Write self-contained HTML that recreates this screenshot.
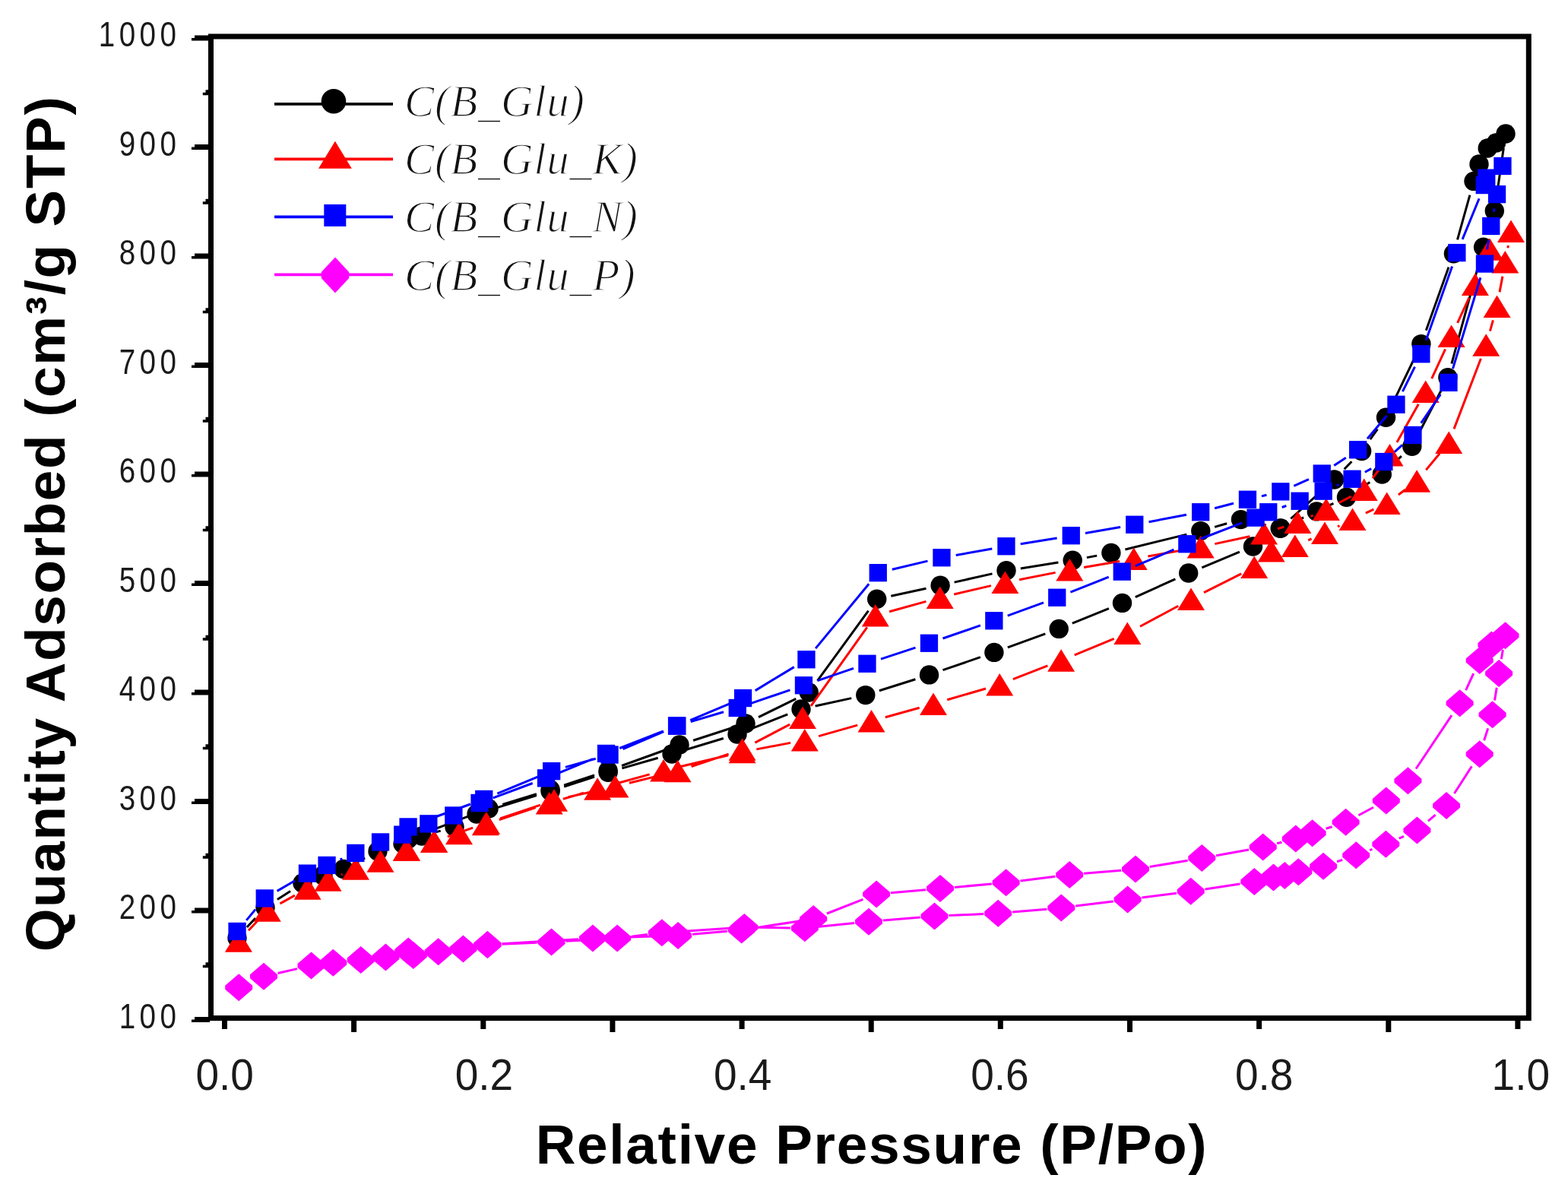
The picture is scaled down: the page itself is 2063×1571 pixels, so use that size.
<!DOCTYPE html>
<html><head><meta charset="utf-8"><title>Isotherm</title><style>
html,body{margin:0;padding:0;background:#fff;}
body{width:2063px;height:1571px;overflow:hidden;}
svg{display:block;}
.yl{font-family:"Liberation Sans",Arial,sans-serif;font-size:46px;fill:#1a1a1a;letter-spacing:6.5px;}
.xl{font-family:"Liberation Sans",Arial,sans-serif;font-size:57px;fill:#1a1a1a;}
.at{font-family:"Liberation Sans",Arial,sans-serif;font-size:73px;font-weight:bold;fill:#000;}
#xt{letter-spacing:1.7px;}
#yt{letter-spacing:1.6px;}
.lg{font-family:"Liberation Serif","Times New Roman",serif;font-style:italic;font-size:59px;fill:#111;letter-spacing:0.6px;stroke:#fff;stroke-width:1.4px;paint-order:normal;}
</style></head><body>
<svg width="2063" height="1571" viewBox="0 0 2063 1571">
<rect width="2063" height="1571" fill="#fff"/>
<path d="M324.9 1220.1L336.1 1207.9M364.9 1183.6L382.1 1172.4M468.8 1134.7L480.2 1128.8M573.3 1094.9L579.7 1093.1M645.2 1065.4L705.9 1046.6M742.2 1035.1L782.0 1022.1M818.4 1010.9L865.7 997.3M902.2 986.5L951.8 971.5M987.7 959.1L1036.3 939.9M1072.6 929.0L1120.2 918.6M1156.9 908.8L1204.4 893.7M1240.5 881.7L1289.9 864.6M1325.8 851.9L1375.3 833.9M1410.8 820.2L1458.9 800.6M1493.8 785.6L1546.4 761.8M1581.3 746.8L1630.9 726.2M1664.4 708.6L1669.1 705.4M1702.2 687.0L1715.1 680.9M1749.4 664.7L1754.4 662.4M1787.5 643.9L1802.3 634.4M1832.2 611.1L1843.9 600.2M1866.6 570.3L1896.1 513.7M1909.9 478.5L1946.6 343.6M1957.2 307.1L1960.7 295.8M1969.0 258.8L1978.3 194.8M1933.9 256.7L1917.5 315.4M1906.0 351.6L1876.3 434.7M1861.7 469.7L1831.7 532.1M1812.4 564.6L1802.7 578.1M1778.4 607.2L1768.7 617.3M1741.4 643.7L1698.3 682.5M1665.7 691.0L1651.0 687.8M1614.2 688.8L1598.1 693.4M1561.3 703.1L1480.4 723.0M1443.2 731.1L1429.9 733.6M1392.4 740.1L1342.8 747.9M1305.5 754.9L1255.6 766.1M1218.5 774.2L1172.3 784.2M1142.5 803.6L1075.5 895.6M1047.3 919.4L998.0 943.6M962.9 957.8L912.1 974.2M876.1 986.5L818.0 1007.5M782.1 1019.9L742.1 1033.1M705.9 1044.6L661.2 1058.4M625.2 1070.7L554.8 1097.3" stroke="#000000" stroke-width="3.0" fill="none" stroke-linecap="butt"/>
<circle cx="312.0" cy="1234.0" r="12.7" fill="#000000"/>
<circle cx="349.0" cy="1194.0" r="12.7" fill="#000000"/>
<circle cx="398.0" cy="1162.0" r="12.7" fill="#000000"/>
<circle cx="425.0" cy="1152.0" r="12.7" fill="#000000"/>
<circle cx="452.0" cy="1143.5" r="12.7" fill="#000000"/>
<circle cx="497.0" cy="1120.0" r="12.7" fill="#000000"/>
<circle cx="530.0" cy="1110.0" r="12.7" fill="#000000"/>
<circle cx="555.0" cy="1100.0" r="12.7" fill="#000000"/>
<circle cx="598.0" cy="1088.0" r="12.7" fill="#000000"/>
<circle cx="627.0" cy="1071.0" r="12.7" fill="#000000"/>
<circle cx="724.1" cy="1041.0" r="12.7" fill="#000000"/>
<circle cx="800.1" cy="1016.2" r="12.7" fill="#000000"/>
<circle cx="884.0" cy="992.0" r="12.7" fill="#000000"/>
<circle cx="970.0" cy="966.0" r="12.7" fill="#000000"/>
<circle cx="1054.0" cy="933.0" r="12.7" fill="#000000"/>
<circle cx="1138.8" cy="914.6" r="12.7" fill="#000000"/>
<circle cx="1222.5" cy="887.9" r="12.7" fill="#000000"/>
<circle cx="1307.9" cy="858.4" r="12.7" fill="#000000"/>
<circle cx="1393.2" cy="827.4" r="12.7" fill="#000000"/>
<circle cx="1476.5" cy="793.4" r="12.7" fill="#000000"/>
<circle cx="1563.7" cy="754.0" r="12.7" fill="#000000"/>
<circle cx="1648.5" cy="719.0" r="12.7" fill="#000000"/>
<circle cx="1685.0" cy="695.0" r="12.7" fill="#000000"/>
<circle cx="1732.3" cy="672.9" r="12.7" fill="#000000"/>
<circle cx="1771.5" cy="654.2" r="12.7" fill="#000000"/>
<circle cx="1818.3" cy="624.1" r="12.7" fill="#000000"/>
<circle cx="1857.8" cy="587.2" r="12.7" fill="#000000"/>
<circle cx="1904.9" cy="496.8" r="12.7" fill="#000000"/>
<circle cx="1951.6" cy="325.3" r="12.7" fill="#000000"/>
<circle cx="1966.3" cy="277.6" r="12.7" fill="#000000"/>
<circle cx="1981.0" cy="176.0" r="12.7" fill="#000000"/>
<circle cx="1968.4" cy="188.0" r="12.7" fill="#000000"/>
<circle cx="1957.2" cy="195.0" r="12.7" fill="#000000"/>
<circle cx="1946.0" cy="216.0" r="12.7" fill="#000000"/>
<circle cx="1939.0" cy="238.4" r="12.7" fill="#000000"/>
<circle cx="1912.4" cy="333.7" r="12.7" fill="#000000"/>
<circle cx="1869.9" cy="452.6" r="12.7" fill="#000000"/>
<circle cx="1823.5" cy="549.2" r="12.7" fill="#000000"/>
<circle cx="1791.6" cy="593.5" r="12.7" fill="#000000"/>
<circle cx="1755.5" cy="631.0" r="12.7" fill="#000000"/>
<circle cx="1684.2" cy="695.2" r="12.7" fill="#000000"/>
<circle cx="1632.5" cy="683.6" r="12.7" fill="#000000"/>
<circle cx="1579.8" cy="698.6" r="12.7" fill="#000000"/>
<circle cx="1461.9" cy="727.5" r="12.7" fill="#000000"/>
<circle cx="1411.2" cy="737.2" r="12.7" fill="#000000"/>
<circle cx="1324.0" cy="750.8" r="12.7" fill="#000000"/>
<circle cx="1237.1" cy="770.2" r="12.7" fill="#000000"/>
<circle cx="1153.7" cy="788.2" r="12.7" fill="#000000"/>
<circle cx="1064.3" cy="911.0" r="12.7" fill="#000000"/>
<circle cx="981.0" cy="952.0" r="12.7" fill="#000000"/>
<circle cx="894.0" cy="980.0" r="12.7" fill="#000000"/>
<circle cx="800.1" cy="1014.0" r="12.7" fill="#000000"/>
<circle cx="724.1" cy="1039.0" r="12.7" fill="#000000"/>
<circle cx="643.0" cy="1064.0" r="12.7" fill="#000000"/>
<circle cx="537.0" cy="1104.0" r="12.7" fill="#000000"/>
<path d="M327.0 1224.2L338.7 1211.8M368.5 1188.9L387.9 1178.1M449.1 1150.8L450.4 1150.2M656.8 1078.6L704.7 1062.7M740.9 1051.3L767.9 1043.3M804.4 1032.8L854.7 1018.9M891.5 1009.5L958.1 993.8M995.3 985.9L1040.1 977.4M1077.1 968.6L1128.2 954.1M1164.8 943.8L1209.7 931.3M1246.2 920.8L1297.0 906.0M1332.9 893.7L1378.4 875.9M1413.7 861.8L1465.7 840.4M1500.0 824.2L1550.3 797.3M1584.0 779.7L1633.2 754.9M1721.2 710.8L1725.6 708.9M1760.0 692.9L1762.5 691.6M1796.8 675.2L1807.4 670.2M1839.9 651.0L1848.9 644.3M1876.2 618.4L1894.1 596.7M1913.0 564.4L1948.4 471.7M1960.4 435.7L1964.4 421.4M1973.0 384.4L1976.9 363.6M1983.8 326.2L1984.5 323.0M1952.8 345.6L1948.1 356.8M1932.9 391.7L1917.6 424.9M1901.6 459.4L1883.7 498.1M1866.3 531.8L1837.9 582.1M1817.2 613.9L1806.0 629.1M1777.8 653.1L1761.7 661.5M1727.5 678.0L1724.6 679.3M1689.3 693.1L1681.0 695.8M1644.4 705.8L1598.3 715.6M1561.0 722.9L1510.4 732.0M1473.0 738.5L1426.0 746.6M1388.6 753.4L1341.1 762.7M1303.9 770.6L1255.2 782.0M1218.4 791.4L1170.1 804.8M1140.8 825.4L1067.0 928.8M1039.2 953.1L993.4 977.2M958.6 992.1L909.6 1008.5M873.1 1019.1L827.9 1030.3M790.9 1039.0L747.5 1048.8M711.0 1059.1L658.0 1076.9M622.1 1089.2L588.9 1100.8" stroke="#ff0000" stroke-width="3.0" fill="none" stroke-linecap="butt"/>
<path d="M313.9 1223.2L331.9 1252.8L295.9 1252.8Z" fill="#ff0000"/>
<path d="M351.8 1183.2L369.8 1212.8L333.8 1212.8Z" fill="#ff0000"/>
<path d="M404.6 1154.2L422.6 1183.8L386.6 1183.8Z" fill="#ff0000"/>
<path d="M431.5 1143.2L449.5 1172.8L413.5 1172.8Z" fill="#ff0000"/>
<path d="M468.0 1128.2L486.0 1157.8L450.0 1157.8Z" fill="#ff0000"/>
<path d="M500.5 1118.2L518.5 1147.8L482.5 1147.8Z" fill="#ff0000"/>
<path d="M534.8 1103.2L552.8 1132.8L516.8 1132.8Z" fill="#ff0000"/>
<path d="M571.2 1092.2L589.2 1121.8L553.2 1121.8Z" fill="#ff0000"/>
<path d="M604.0 1081.8L622.0 1111.2L586.0 1111.2Z" fill="#ff0000"/>
<path d="M638.8 1069.8L656.8 1099.3L620.8 1099.3Z" fill="#ff0000"/>
<path d="M722.7 1042.0L740.7 1071.5L704.7 1071.5Z" fill="#ff0000"/>
<path d="M786.1 1023.2L804.1 1052.7L768.1 1052.7Z" fill="#ff0000"/>
<path d="M873.0 999.0L891.0 1028.5L855.0 1028.5Z" fill="#ff0000"/>
<path d="M976.6 974.8L994.6 1004.2L958.6 1004.2Z" fill="#ff0000"/>
<path d="M1058.8 959.0L1076.8 988.5L1040.8 988.5Z" fill="#ff0000"/>
<path d="M1146.5 934.1L1164.5 963.6L1128.5 963.6Z" fill="#ff0000"/>
<path d="M1228.0 911.5L1246.0 941.0L1210.0 941.0Z" fill="#ff0000"/>
<path d="M1315.2 885.9L1333.2 915.4L1297.2 915.4Z" fill="#ff0000"/>
<path d="M1396.1 854.2L1414.1 883.8L1378.1 883.8Z" fill="#ff0000"/>
<path d="M1483.3 818.5L1501.3 848.0L1465.3 848.0Z" fill="#ff0000"/>
<path d="M1567.0 773.5L1585.0 803.0L1549.0 803.0Z" fill="#ff0000"/>
<path d="M1650.2 731.5L1668.2 761.0L1632.2 761.0Z" fill="#ff0000"/>
<path d="M1672.6 709.9L1690.6 739.4L1654.6 739.4Z" fill="#ff0000"/>
<path d="M1703.8 703.5L1721.8 733.0L1685.8 733.0Z" fill="#ff0000"/>
<path d="M1743.0 686.6L1761.0 716.1L1725.0 716.1Z" fill="#ff0000"/>
<path d="M1779.5 668.4L1797.5 697.9L1761.5 697.9Z" fill="#ff0000"/>
<path d="M1824.7 647.5L1842.7 677.0L1806.7 677.0Z" fill="#ff0000"/>
<path d="M1864.1 618.2L1882.1 647.8L1846.1 647.8Z" fill="#ff0000"/>
<path d="M1906.2 567.4L1924.2 596.9L1888.2 596.9Z" fill="#ff0000"/>
<path d="M1955.2 439.2L1973.2 468.8L1937.2 468.8Z" fill="#ff0000"/>
<path d="M1969.6 388.4L1987.6 417.9L1951.6 417.9Z" fill="#ff0000"/>
<path d="M1980.3 330.1L1998.3 359.6L1962.3 359.6Z" fill="#ff0000"/>
<path d="M1988.0 289.6L2006.0 319.1L1970.0 319.1Z" fill="#ff0000"/>
<path d="M1960.0 313.2L1978.0 342.8L1942.0 342.8Z" fill="#ff0000"/>
<path d="M1940.9 359.6L1958.9 389.1L1922.9 389.1Z" fill="#ff0000"/>
<path d="M1909.6 427.4L1927.6 456.9L1891.6 456.9Z" fill="#ff0000"/>
<path d="M1875.7 500.5L1893.7 530.0L1857.7 530.0Z" fill="#ff0000"/>
<path d="M1828.5 583.9L1846.5 613.4L1810.5 613.4Z" fill="#ff0000"/>
<path d="M1794.7 629.6L1812.7 659.1L1776.7 659.1Z" fill="#ff0000"/>
<path d="M1744.8 655.5L1762.8 685.0L1726.8 685.0Z" fill="#ff0000"/>
<path d="M1707.3 672.4L1725.3 701.9L1689.3 701.9Z" fill="#ff0000"/>
<path d="M1663.0 687.0L1681.0 716.5L1645.0 716.5Z" fill="#ff0000"/>
<path d="M1579.7 704.9L1597.7 734.4L1561.7 734.4Z" fill="#ff0000"/>
<path d="M1491.7 720.5L1509.7 750.0L1473.7 750.0Z" fill="#ff0000"/>
<path d="M1407.3 735.0L1425.3 764.5L1389.3 764.5Z" fill="#ff0000"/>
<path d="M1322.4 751.5L1340.4 781.0L1304.4 781.0Z" fill="#ff0000"/>
<path d="M1236.7 771.5L1254.7 801.0L1218.7 801.0Z" fill="#ff0000"/>
<path d="M1151.8 795.1L1169.8 824.6L1133.8 824.6Z" fill="#ff0000"/>
<path d="M1056.0 929.5L1074.0 959.0L1038.0 959.0Z" fill="#ff0000"/>
<path d="M976.6 971.2L994.6 1000.8L958.6 1000.8Z" fill="#ff0000"/>
<path d="M891.6 999.9L909.6 1029.3L873.6 1029.3Z" fill="#ff0000"/>
<path d="M809.4 1020.0L827.4 1049.5L791.4 1049.5Z" fill="#ff0000"/>
<path d="M729.0 1038.2L747.0 1067.8L711.0 1067.8Z" fill="#ff0000"/>
<path d="M640.0 1068.2L658.0 1097.8L622.0 1097.8Z" fill="#ff0000"/>
<path d="M571.0 1092.2L589.0 1121.8L553.0 1121.8Z" fill="#ff0000"/>
<path d="M535.0 1103.2L553.0 1132.8L517.0 1132.8Z" fill="#ff0000"/>
<path d="M324.2 1210.9L336.0 1196.6M364.6 1172.4L388.0 1158.8M447.5 1131.0L450.4 1129.9M648.8 1049.9L700.7 1030.5M736.1 1016.7L779.9 998.6M815.2 984.5L872.8 961.9M908.7 949.6L952.0 936.8M988.2 925.3L1039.5 907.9M1075.5 895.6L1123.0 879.4M1159.0 867.2L1204.5 852.2M1240.5 840.0L1289.9 822.9M1325.7 810.2L1373.0 792.8M1408.4 779.2L1458.7 759.2M1493.8 744.7L1544.4 723.2M1579.6 709.0L1634.4 687.9M1686.7 667.5L1692.3 665.5M1758.7 638.8L1761.6 637.6M1795.8 621.2L1804.2 616.6M1834.9 594.6L1845.0 585.3M1869.7 556.7L1895.3 519.0M1911.5 485.1L1947.9 365.2M1956.6 328.3L1958.6 316.1M1965.3 278.7L1966.1 274.4M1946.1 261.2L1924.1 314.9M1910.6 350.4L1876.2 447.8M1861.5 482.7L1845.4 515.2M1824.7 546.7L1799.0 577.3M1770.8 602.2L1755.2 612.6M1721.9 630.6L1702.3 639.3M1666.4 651.3L1659.9 652.9M1623.0 662.2L1598.1 668.8M1561.0 677.2L1511.5 686.7M1474.1 693.5L1428.0 701.5M1390.6 707.9L1342.7 715.7M1305.3 722.1L1257.7 730.4M1220.5 738.1L1173.8 749.2M1143.2 768.2L1073.1 853.1M1044.8 877.6L993.7 908.6M960.0 925.9L908.2 947.6M873.2 962.5L819.5 985.5M783.7 998.2L743.9 1009.4M708.1 1021.9L654.3 1044.2M619.0 1058.0L554.8 1081.5" stroke="#0000ff" stroke-width="3.0" fill="none" stroke-linecap="butt"/>
<rect x="300.4" y="1213.8" width="23.3" height="23.3" fill="#0000ff"/>
<rect x="336.6" y="1170.3" width="23.3" height="23.3" fill="#0000ff"/>
<rect x="392.8" y="1137.5" width="23.3" height="23.3" fill="#0000ff"/>
<rect x="418.4" y="1126.8" width="23.3" height="23.3" fill="#0000ff"/>
<rect x="456.2" y="1110.8" width="23.3" height="23.3" fill="#0000ff"/>
<rect x="488.9" y="1096.3" width="23.3" height="23.3" fill="#0000ff"/>
<rect x="518.1" y="1086.5" width="23.3" height="23.3" fill="#0000ff"/>
<rect x="552.2" y="1072.2" width="23.3" height="23.3" fill="#0000ff"/>
<rect x="585.2" y="1061.3" width="23.3" height="23.3" fill="#0000ff"/>
<rect x="619.4" y="1044.8" width="23.3" height="23.3" fill="#0000ff"/>
<rect x="706.9" y="1012.2" width="23.3" height="23.3" fill="#0000ff"/>
<rect x="785.9" y="979.8" width="23.3" height="23.3" fill="#0000ff"/>
<rect x="878.9" y="943.4" width="23.3" height="23.3" fill="#0000ff"/>
<rect x="958.6" y="919.8" width="23.3" height="23.3" fill="#0000ff"/>
<rect x="1045.8" y="890.1" width="23.3" height="23.3" fill="#0000ff"/>
<rect x="1129.3" y="861.6" width="23.3" height="23.3" fill="#0000ff"/>
<rect x="1210.8" y="834.6" width="23.3" height="23.3" fill="#0000ff"/>
<rect x="1296.2" y="805.1" width="23.3" height="23.3" fill="#0000ff"/>
<rect x="1379.1" y="774.6" width="23.3" height="23.3" fill="#0000ff"/>
<rect x="1464.6" y="740.5" width="23.3" height="23.3" fill="#0000ff"/>
<rect x="1550.2" y="704.1" width="23.3" height="23.3" fill="#0000ff"/>
<rect x="1640.4" y="669.5" width="23.3" height="23.3" fill="#0000ff"/>
<rect x="1657.1" y="662.1" width="23.3" height="23.3" fill="#0000ff"/>
<rect x="1698.5" y="647.6" width="23.3" height="23.3" fill="#0000ff"/>
<rect x="1729.5" y="634.5" width="23.3" height="23.3" fill="#0000ff"/>
<rect x="1767.4" y="618.6" width="23.3" height="23.3" fill="#0000ff"/>
<rect x="1809.2" y="595.9" width="23.3" height="23.3" fill="#0000ff"/>
<rect x="1847.3" y="560.8" width="23.3" height="23.3" fill="#0000ff"/>
<rect x="1894.3" y="491.7" width="23.3" height="23.3" fill="#0000ff"/>
<rect x="1941.8" y="335.4" width="23.3" height="23.3" fill="#0000ff"/>
<rect x="1950.1" y="285.8" width="23.3" height="23.3" fill="#0000ff"/>
<rect x="1957.9" y="244.0" width="23.3" height="23.3" fill="#0000ff"/>
<rect x="1965.3" y="206.8" width="23.3" height="23.3" fill="#0000ff"/>
<rect x="1944.1" y="222.5" width="23.3" height="23.3" fill="#0000ff"/>
<rect x="1941.6" y="231.9" width="23.3" height="23.3" fill="#0000ff"/>
<rect x="1905.2" y="320.9" width="23.3" height="23.3" fill="#0000ff"/>
<rect x="1858.2" y="454.1" width="23.3" height="23.3" fill="#0000ff"/>
<rect x="1825.3" y="520.6" width="23.3" height="23.3" fill="#0000ff"/>
<rect x="1775.0" y="580.1" width="23.3" height="23.3" fill="#0000ff"/>
<rect x="1727.6" y="611.4" width="23.3" height="23.3" fill="#0000ff"/>
<rect x="1673.2" y="635.2" width="23.3" height="23.3" fill="#0000ff"/>
<rect x="1629.8" y="645.6" width="23.3" height="23.3" fill="#0000ff"/>
<rect x="1568.0" y="662.1" width="23.3" height="23.3" fill="#0000ff"/>
<rect x="1481.1" y="678.6" width="23.3" height="23.3" fill="#0000ff"/>
<rect x="1397.6" y="693.1" width="23.3" height="23.3" fill="#0000ff"/>
<rect x="1312.3" y="707.1" width="23.3" height="23.3" fill="#0000ff"/>
<rect x="1227.3" y="722.1" width="23.3" height="23.3" fill="#0000ff"/>
<rect x="1143.6" y="742.0" width="23.3" height="23.3" fill="#0000ff"/>
<rect x="1049.3" y="856.1" width="23.3" height="23.3" fill="#0000ff"/>
<rect x="965.9" y="906.9" width="23.3" height="23.3" fill="#0000ff"/>
<rect x="879.1" y="943.4" width="23.3" height="23.3" fill="#0000ff"/>
<rect x="790.4" y="981.4" width="23.3" height="23.3" fill="#0000ff"/>
<rect x="714.0" y="1003.0" width="23.3" height="23.3" fill="#0000ff"/>
<rect x="625.1" y="1039.8" width="23.3" height="23.3" fill="#0000ff"/>
<rect x="525.4" y="1076.3" width="23.3" height="23.3" fill="#0000ff"/>
<path d="M365.5 1280.5L391.0 1274.6M556.2 1251.8L557.7 1251.9M660.4 1242.2L706.5 1240.2M744.5 1238.3L793.1 1235.6M831.0 1232.2L851.9 1229.6M889.8 1226.0L960.3 1221.3M998.3 1220.3L1039.8 1220.9M1077.7 1219.3L1124.1 1214.6M1161.9 1211.1L1210.6 1207.0M1248.5 1204.6L1294.2 1202.6M1332.1 1200.1L1377.4 1196.2M1415.2 1192.1L1464.7 1186.0M1502.4 1181.1L1547.9 1175.2M1585.5 1169.9L1631.5 1162.9M1759.1 1133.7L1766.2 1131.4M1802.0 1118.7L1805.5 1117.4M1840.7 1103.1L1847.0 1100.3M1878.9 1080.4L1888.6 1072.2M1913.4 1044.0L1936.4 1008.3M1952.6 974.2L1957.7 958.4M1966.5 921.5L1969.2 904.7M1975.3 867.2L1977.3 855.0M1938.7 886.1L1928.6 908.1M1910.0 941.1L1863.0 1011.5M1807.0 1062.3L1787.4 1072.8M1752.6 1087.7L1744.6 1090.3M1686.4 1108.2L1680.1 1109.8M1643.0 1117.9L1600.0 1125.7M1562.6 1132.2L1512.7 1140.5M1475.1 1145.2L1426.1 1149.3M1388.3 1153.2L1342.5 1159.0M1304.7 1163.0L1255.9 1167.4M1218.1 1170.7L1172.0 1174.8M1135.4 1183.4L1087.9 1202.0M1051.4 1211.9L994.5 1220.7M956.8 1225.3L911.0 1229.2M873.1 1231.5L798.9 1233.9M760.9 1235.7L660.4 1241.8M622.6 1245.7L562.6 1254.4" stroke="#ff00ff" stroke-width="3.0" fill="none" stroke-linecap="butt"/>
<path d="M314.2 1281.2L332.2 1296.7L332.2 1301.7L314.2 1317.2L296.2 1301.7L296.2 1296.7Z" fill="#ff00ff"/>
<path d="M347.0 1266.7L365.0 1282.2L365.0 1287.2L347.0 1302.7L329.0 1287.2L329.0 1282.2Z" fill="#ff00ff"/>
<path d="M409.5 1252.4L427.5 1267.9L427.5 1272.9L409.5 1288.4L391.5 1272.9L391.5 1267.9Z" fill="#ff00ff"/>
<path d="M438.3 1248.8L456.3 1264.3L456.3 1269.3L438.3 1284.8L420.3 1269.3L420.3 1264.3Z" fill="#ff00ff"/>
<path d="M474.7 1245.1L492.7 1260.6L492.7 1265.6L474.7 1281.1L456.7 1265.6L456.7 1260.6Z" fill="#ff00ff"/>
<path d="M507.4 1241.5L525.4 1257.0L525.4 1262.0L507.4 1277.5L489.4 1262.0L489.4 1257.0Z" fill="#ff00ff"/>
<path d="M537.2 1233.5L555.2 1249.0L555.2 1254.0L537.2 1269.5L519.2 1254.0L519.2 1249.0Z" fill="#ff00ff"/>
<path d="M576.7 1234.2L594.7 1249.7L594.7 1254.7L576.7 1270.2L558.7 1254.7L558.7 1249.7Z" fill="#ff00ff"/>
<path d="M609.4 1230.6L627.4 1246.1L627.4 1251.1L609.4 1266.6L591.4 1251.1L591.4 1246.1Z" fill="#ff00ff"/>
<path d="M641.4 1225.0L659.4 1240.5L659.4 1245.5L641.4 1261.0L623.4 1245.5L623.4 1240.5Z" fill="#ff00ff"/>
<path d="M725.5 1221.4L743.5 1236.9L743.5 1241.9L725.5 1257.4L707.5 1241.9L707.5 1236.9Z" fill="#ff00ff"/>
<path d="M812.1 1216.5L830.1 1232.0L830.1 1237.0L812.1 1252.5L794.1 1237.0L794.1 1232.0Z" fill="#ff00ff"/>
<path d="M870.8 1209.3L888.8 1224.8L888.8 1229.8L870.8 1245.3L852.8 1229.8L852.8 1224.8Z" fill="#ff00ff"/>
<path d="M979.3 1202.0L997.3 1217.5L997.3 1222.5L979.3 1238.0L961.3 1222.5L961.3 1217.5Z" fill="#ff00ff"/>
<path d="M1058.8 1203.2L1076.8 1218.7L1076.8 1223.7L1058.8 1239.2L1040.8 1223.7L1040.8 1218.7Z" fill="#ff00ff"/>
<path d="M1143.0 1194.7L1161.0 1210.2L1161.0 1215.2L1143.0 1230.7L1125.0 1215.2L1125.0 1210.2Z" fill="#ff00ff"/>
<path d="M1229.5 1187.4L1247.5 1202.9L1247.5 1207.9L1229.5 1223.4L1211.5 1207.9L1211.5 1202.9Z" fill="#ff00ff"/>
<path d="M1313.2 1183.8L1331.2 1199.3L1331.2 1204.3L1313.2 1219.8L1295.2 1204.3L1295.2 1199.3Z" fill="#ff00ff"/>
<path d="M1396.3 1176.5L1414.3 1192.0L1414.3 1197.0L1396.3 1212.5L1378.3 1197.0L1378.3 1192.0Z" fill="#ff00ff"/>
<path d="M1483.6 1165.6L1501.6 1181.1L1501.6 1186.1L1483.6 1201.6L1465.6 1186.1L1465.6 1181.1Z" fill="#ff00ff"/>
<path d="M1566.7 1154.7L1584.7 1170.2L1584.7 1175.2L1566.7 1190.7L1548.7 1175.2L1548.7 1170.2Z" fill="#ff00ff"/>
<path d="M1650.3 1142.1L1668.3 1157.6L1668.3 1162.6L1650.3 1178.1L1632.3 1162.6L1632.3 1157.6Z" fill="#ff00ff"/>
<path d="M1675.5 1136.5L1693.5 1152.0L1693.5 1157.0L1675.5 1172.5L1657.5 1157.0L1657.5 1152.0Z" fill="#ff00ff"/>
<path d="M1690.3 1134.1L1708.3 1149.6L1708.3 1154.6L1690.3 1170.1L1672.3 1154.6L1672.3 1149.6Z" fill="#ff00ff"/>
<path d="M1708.3 1129.3L1726.3 1144.8L1726.3 1149.8L1708.3 1165.3L1690.3 1149.8L1690.3 1144.8Z" fill="#ff00ff"/>
<path d="M1741.1 1121.8L1759.1 1137.3L1759.1 1142.3L1741.1 1157.8L1723.1 1142.3L1723.1 1137.3Z" fill="#ff00ff"/>
<path d="M1784.2 1107.3L1802.2 1122.8L1802.2 1127.8L1784.2 1143.3L1766.2 1127.8L1766.2 1122.8Z" fill="#ff00ff"/>
<path d="M1823.3 1092.8L1841.3 1108.3L1841.3 1113.3L1823.3 1128.8L1805.3 1113.3L1805.3 1108.3Z" fill="#ff00ff"/>
<path d="M1864.4 1074.6L1882.4 1090.1L1882.4 1095.1L1864.4 1110.6L1846.4 1095.1L1846.4 1090.1Z" fill="#ff00ff"/>
<path d="M1903.1 1042.0L1921.1 1057.5L1921.1 1062.5L1903.1 1078.0L1885.1 1062.5L1885.1 1057.5Z" fill="#ff00ff"/>
<path d="M1946.7 974.3L1964.7 989.8L1964.7 994.8L1946.7 1010.3L1928.7 994.8L1928.7 989.8Z" fill="#ff00ff"/>
<path d="M1963.6 922.3L1981.6 937.8L1981.6 942.8L1963.6 958.3L1945.6 942.8L1945.6 937.8Z" fill="#ff00ff"/>
<path d="M1972.1 867.9L1990.1 883.4L1990.1 888.4L1972.1 903.9L1954.1 888.4L1954.1 883.4Z" fill="#ff00ff"/>
<path d="M1980.5 818.3L1998.5 833.8L1998.5 838.8L1980.5 854.3L1962.5 838.8L1962.5 833.8Z" fill="#ff00ff"/>
<path d="M1962.4 830.4L1980.4 845.9L1980.4 850.9L1962.4 866.4L1944.4 850.9L1944.4 845.9Z" fill="#ff00ff"/>
<path d="M1946.7 850.9L1964.7 866.4L1964.7 871.4L1946.7 886.9L1928.7 871.4L1928.7 866.4Z" fill="#ff00ff"/>
<path d="M1920.6 907.3L1938.6 922.8L1938.6 927.8L1920.6 943.3L1902.6 927.8L1902.6 922.8Z" fill="#ff00ff"/>
<path d="M1852.4 1009.3L1870.4 1024.8L1870.4 1029.8L1852.4 1045.3L1834.4 1029.8L1834.4 1024.8Z" fill="#ff00ff"/>
<path d="M1823.8 1035.4L1841.8 1050.9L1841.8 1055.9L1823.8 1071.4L1805.8 1055.9L1805.8 1050.9Z" fill="#ff00ff"/>
<path d="M1770.6 1063.7L1788.6 1079.2L1788.6 1084.2L1770.6 1099.7L1752.6 1084.2L1752.6 1079.2Z" fill="#ff00ff"/>
<path d="M1726.6 1078.3L1744.6 1093.8L1744.6 1098.8L1726.6 1114.3L1708.6 1098.8L1708.6 1093.8Z" fill="#ff00ff"/>
<path d="M1704.8 1085.5L1722.8 1101.0L1722.8 1106.0L1704.8 1121.5L1686.8 1106.0L1686.8 1101.0Z" fill="#ff00ff"/>
<path d="M1661.7 1096.5L1679.7 1112.0L1679.7 1117.0L1661.7 1132.5L1643.7 1117.0L1643.7 1112.0Z" fill="#ff00ff"/>
<path d="M1581.3 1111.1L1599.3 1126.6L1599.3 1131.6L1581.3 1147.1L1563.3 1131.6L1563.3 1126.6Z" fill="#ff00ff"/>
<path d="M1494.0 1125.6L1512.0 1141.1L1512.0 1146.1L1494.0 1161.6L1476.0 1146.1L1476.0 1141.1Z" fill="#ff00ff"/>
<path d="M1407.2 1132.9L1425.2 1148.4L1425.2 1153.4L1407.2 1168.9L1389.2 1153.4L1389.2 1148.4Z" fill="#ff00ff"/>
<path d="M1323.6 1143.3L1341.6 1158.8L1341.6 1163.8L1323.6 1179.3L1305.6 1163.8L1305.6 1158.8Z" fill="#ff00ff"/>
<path d="M1237.0 1151.1L1255.0 1166.6L1255.0 1171.6L1237.0 1187.1L1219.0 1171.6L1219.0 1166.6Z" fill="#ff00ff"/>
<path d="M1153.1 1158.4L1171.1 1173.9L1171.1 1178.9L1153.1 1194.4L1135.1 1178.9L1135.1 1173.9Z" fill="#ff00ff"/>
<path d="M1070.2 1191.0L1088.2 1206.5L1088.2 1211.5L1070.2 1227.0L1052.2 1211.5L1052.2 1206.5Z" fill="#ff00ff"/>
<path d="M975.7 1205.6L993.7 1221.1L993.7 1226.1L975.7 1241.6L957.7 1226.1L957.7 1221.1Z" fill="#ff00ff"/>
<path d="M892.1 1212.9L910.1 1228.4L910.1 1233.4L892.1 1248.9L874.1 1233.4L874.1 1228.4Z" fill="#ff00ff"/>
<path d="M779.9 1216.5L797.9 1232.0L797.9 1237.0L779.9 1252.5L761.9 1237.0L761.9 1232.0Z" fill="#ff00ff"/>
<path d="M641.4 1225.0L659.4 1240.5L659.4 1245.5L641.4 1261.0L623.4 1245.5L623.4 1240.5Z" fill="#ff00ff"/>
<path d="M543.8 1239.1L561.8 1254.6L561.8 1259.6L543.8 1275.1L525.8 1259.6L525.8 1254.6Z" fill="#ff00ff"/>
<rect x="277.5" y="48" width="1733.8" height="1291.6" fill="none" stroke="#000" stroke-width="7"/>
<path d="M256 50.0H276M270.5 121.8H276M256 193.5H276M270.5 265.2H276M256 337.0H276M270.5 408.8H276M256 480.5H276M270.5 552.2H276M256 624.0H276M270.5 695.8H276M256 767.5H276M270.5 839.2H276M256 911.0H276M270.5 982.8H276M256 1054.5H276M270.5 1126.2H276M256 1198.0H276M270.5 1269.8H276M256 1341.5H276" stroke="#000" stroke-width="7"/>
<path d="M252 51.8H256.5M266.8 123.5H271M252 195.2H256.5M266.8 267.0H271M252 338.8H256.5M266.8 410.5H271M252 482.2H256.5M266.8 554.0H271M252 625.8H256.5M266.8 697.5H271M252 769.2H256.5M266.8 841.0H271M252 912.8H256.5M266.8 984.5H271M252 1056.2H256.5M266.8 1128.0H271M252 1199.8H256.5M266.8 1271.5H271M252 1343.2H256.5" stroke="#000" stroke-width="3.5"/>
<path d="M295.5 1340V1354M465.6 1340V1358M635.8 1340V1354M805.9 1340V1358M976.1 1340V1354M1146.2 1340V1358M1316.3 1340V1354M1486.5 1340V1358M1656.6 1340V1354M1826.8 1340V1358M1996.9 1340V1354" stroke="#000" stroke-width="7"/>
<text transform="translate(237.5 61.3) scale(0.84 1)" text-anchor="end" class="yl">1000</text>
<text transform="translate(237.5 204.8) scale(0.84 1)" text-anchor="end" class="yl">900</text>
<text transform="translate(237.5 348.3) scale(0.84 1)" text-anchor="end" class="yl">800</text>
<text transform="translate(237.5 491.8) scale(0.84 1)" text-anchor="end" class="yl">700</text>
<text transform="translate(237.5 635.3) scale(0.84 1)" text-anchor="end" class="yl">600</text>
<text transform="translate(237.5 778.8) scale(0.84 1)" text-anchor="end" class="yl">500</text>
<text transform="translate(237.5 922.3) scale(0.84 1)" text-anchor="end" class="yl">400</text>
<text transform="translate(237.5 1065.8) scale(0.84 1)" text-anchor="end" class="yl">300</text>
<text transform="translate(237.5 1209.3) scale(0.84 1)" text-anchor="end" class="yl">200</text>
<text transform="translate(237.5 1352.8) scale(0.84 1)" text-anchor="end" class="yl">100</text>
<text transform="translate(295.7 1433.8) scale(0.965 1)" text-anchor="middle" class="xl">0.0</text>
<text transform="translate(636.9 1433.8) scale(0.965 1)" text-anchor="middle" class="xl">0.2</text>
<text transform="translate(977.2 1433.8) scale(0.965 1)" text-anchor="middle" class="xl">0.4</text>
<text transform="translate(1315.4 1433.8) scale(0.965 1)" text-anchor="middle" class="xl">0.6</text>
<text transform="translate(1663.2 1433.8) scale(0.965 1)" text-anchor="middle" class="xl">0.8</text>
<text transform="translate(2000.8 1433.8) scale(0.965 1)" text-anchor="middle" class="xl">1.0</text>
<text x="1147" y="1531" text-anchor="middle" class="at" id="xt">Relative Pressure (P/Po)</text>
<text transform="translate(85 689) rotate(-90)" x="0" y="0" text-anchor="middle" class="at" id="yt">Quantity Adsorbed (cm³/g STP)</text>
<path d="M361 136.8H517" stroke="#000000" stroke-width="3.8"/>
<circle cx="439.0" cy="133.2" r="16.3" fill="#000000"/>
<text x="532" y="152.9" class="lg">C(B_Glu)</text>
<path d="M361 209.3H517" stroke="#ff0000" stroke-width="3.8"/>
<path d="M440.9 185.8L462.8 221.8L419.0 221.8Z" fill="#ff0000"/>
<text x="532" y="229.3" class="lg">C(B_Glu_K)</text>
<path d="M361 285.3H517" stroke="#0000ff" stroke-width="3.8"/>
<rect x="426.3" y="268.9" width="29.0" height="29.0" fill="#0000ff"/>
<text x="532" y="305.4" class="lg">C(B_Glu_N)</text>
<path d="M361 361.4H517" stroke="#ff00ff" stroke-width="3.8"/>
<path d="M441.0 338.5L459.2 358.0L459.2 366.0L441.0 385.5L422.8 366.0L422.8 358.0Z" fill="#ff00ff"/>
<text x="532" y="382.0" class="lg">C(B_Glu_P)</text>
</svg>
</body></html>
